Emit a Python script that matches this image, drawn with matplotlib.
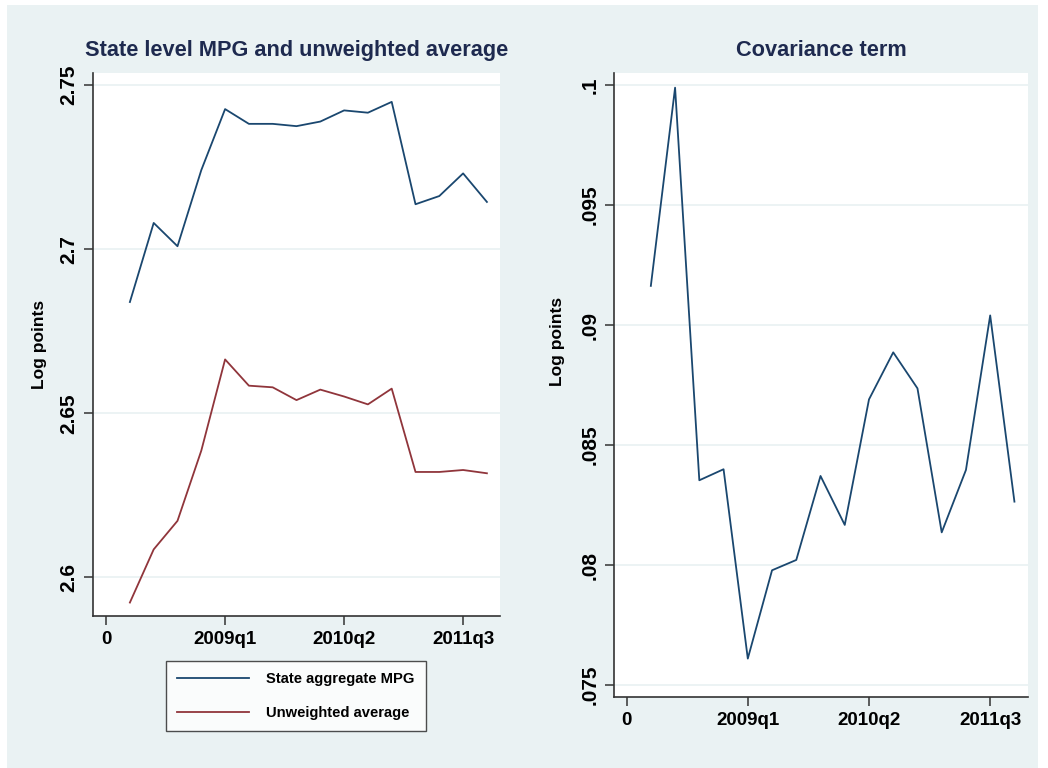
import matplotlib
matplotlib.use('Agg')
import matplotlib.pyplot as plt
from matplotlib.patches import Rectangle

plt.rcParams.update({
    'font.family': ['Liberation Sans', 'DejaVu Sans'],
    'font.weight': 'bold',
    'axes.titleweight': 'bold',
    'axes.labelweight': 'bold',
    'axes.linewidth': 1.2,
})

# quarter index 1..16, labelled at 0, 5, 10, 15
quarters = list(range(1, 17))
tick_pos = [0, 5, 10, 15]
tick_labels = ['0', '2009q1', '2010q2', '2011q3']

state_aggregate = [2.6839, 2.7080, 2.7009, 2.7241, 2.7427, 2.7382, 2.7382, 2.7375,
                   2.7389, 2.7423, 2.7416, 2.7449, 2.7137, 2.7162, 2.7231, 2.7144]
unweighted_avg = [2.5923, 2.6085, 2.6172, 2.6386, 2.6664, 2.6584, 2.6579, 2.6540,
                  2.6572, 2.6551, 2.6527, 2.6575, 2.6321, 2.6321, 2.6327, 2.6317]
covariance = [0.09163, 0.09989, 0.08353, 0.08399, 0.07610, 0.07978, 0.08021, 0.08371,
              0.08167, 0.08690, 0.08886, 0.08736, 0.08136, 0.08396, 0.09040, 0.08264]

left_yticks = [2.6, 2.65, 2.7, 2.75]
left_yticklabels = ['2.6', '2.65', '2.7', '2.75']
right_yticks = [0.075, 0.08, 0.085, 0.09, 0.095, 0.1]
right_yticklabels = ['.075', '.08', '.085', '.09', '.095', '.1']

NAVY = '#1a476f'
MAROON = '#90353b'
BG = '#eaf2f3'
TITLE_C = '#1e2a4f'

W, H = 1048, 768
fig = plt.figure(figsize=(W / 100, H / 100), dpi=100)
fig.patch.set_facecolor('white')
fig.patches.append(Rectangle((7 / W, 0), (1038 - 7) / W, (763) / H,
                             transform=fig.transFigure, facecolor=BG,
                             edgecolor='none', zorder=-10))


def px_axes(x0, y0, x1, y1):
    return fig.add_axes([x0 / W, 1 - y1 / H, (x1 - x0) / W, (y1 - y0) / H])


def style_axes(ax, yticks, yticklabels):
    ax.set_facecolor('white')
    for s in ('top', 'right'):
        ax.spines[s].set_visible(False)
    for s in ('left', 'bottom'):
        ax.spines[s].set_color('#333333')
    ax.set_xticks(tick_pos)
    ax.set_xticklabels(tick_labels, fontsize=13.5)
    ax.set_yticks(yticks)
    ax.set_yticklabels(yticklabels, fontsize=15, rotation=90, va='center')
    ax.tick_params(axis='both', length=6.5, width=1.1, color='#333333', pad=4)
    ax.grid(True, axis='y', color=BG, linewidth=1.3)
    ax.set_axisbelow(True)
    ax.set_ylabel('Log points', fontsize=12.5)


ax1 = px_axes(93, 73, 500, 616)
ax1.plot(quarters, state_aggregate, color=NAVY, lw=1.3, label='State aggregate MPG')
ax1.plot(quarters, unweighted_avg, color=MAROON, lw=1.3, label='Unweighted average')
ax1.set_xlim(-0.55, 16.55)
ax1.set_ylim(2.5882, 2.7537)
style_axes(ax1, left_yticks, left_yticklabels)
ax1.yaxis.set_label_coords(-0.113, 0.5)
ax1.set_title('State level MPG and unweighted average', fontsize=15.7,
              color=TITLE_C, pad=12)
leg = ax1.legend(loc='upper left', bbox_to_anchor=((166 - 93) / 407, -(661 - 616) / 543),
                 borderaxespad=0, fontsize=10.6, frameon=True, fancybox=False,
                 edgecolor='#222222', handlelength=4.9, handletextpad=1.15,
                 borderpad=0.75, labelspacing=1.35)
leg.get_frame().set_linewidth(1.0)

ax2 = px_axes(614, 73, 1028, 697)
ax2.plot(quarters, covariance, color=NAVY, lw=1.3)
ax2.set_xlim(-0.52, 16.56)
ax2.set_ylim(0.0745, 0.1005)
style_axes(ax2, right_yticks, right_yticklabels)
ax2.yaxis.set_label_coords(-0.118, 0.57)
ax2.set_title('Covariance term', fontsize=15.7, color=TITLE_C, pad=12)

fig.savefig('out.png', dpi=100, facecolor=fig.get_facecolor())
